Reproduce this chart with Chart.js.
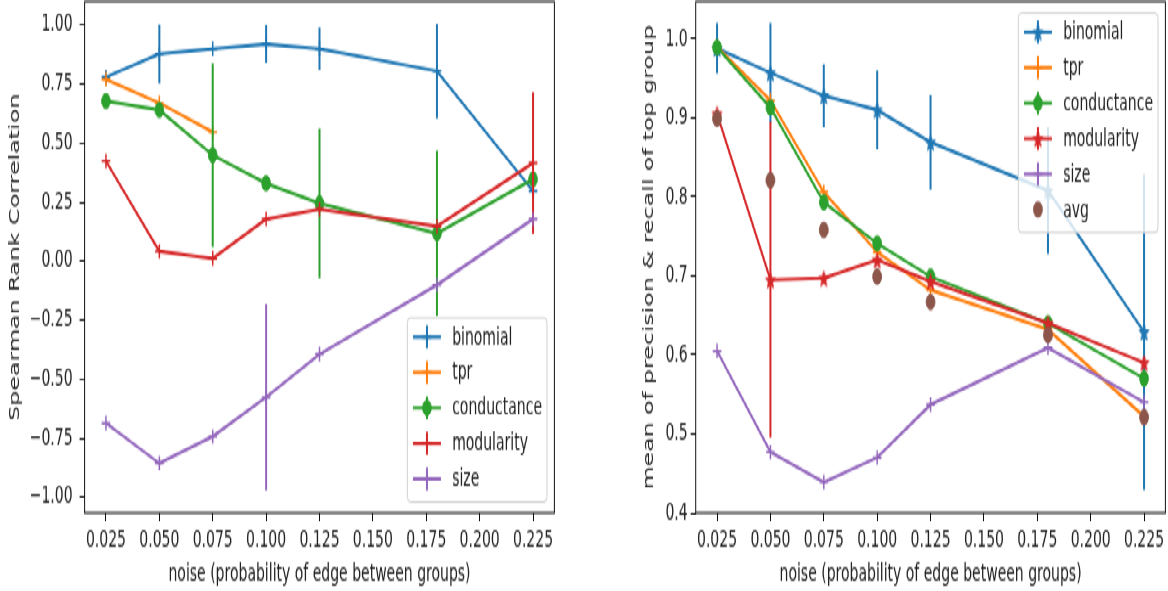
<!DOCTYPE html>
<html><head><meta charset="utf-8">
<script src="https://cdn.jsdelivr.net/npm/chart.js"></script>
<style>
html,body{margin:0;padding:0;background:#fff;overflow:hidden;width:1168px;height:591px;}
#stage{position:absolute;left:0;top:0;width:1168px;height:348px;transform:scaleY(1.6983);transform-origin:0 0;}
.panel{position:absolute;top:0;width:584px;height:348px;}
canvas{display:block;}
</style></head><body>
<div id="stage">
<div class="panel" style="left:0"><canvas id="c1" width="584" height="348"></canvas></div>
<div class="panel" style="left:584px"><canvas id="c2" width="584" height="348"></canvas></div>
</div>
<script>
// ---------- data ----------
const noise = [0.025, 0.05, 0.075, 0.1, 0.125, 0.18, 0.225];
const xTickValues = [0.025, 0.05, 0.075, 0.1, 0.125, 0.15, 0.175, 0.2, 0.225];
const xTickLabels = ['0.025', '0.050', '0.075', '0.100', '0.125', '0.150', '0.175', '0.200', '0.225'];

const leftYTickValues = [-1, -0.75, -0.5, -0.25, 0, 0.25, 0.5, 0.75, 1];
const leftYTickLabels = ['\u22121.00', '\u22120.75', '\u22120.50', '\u22120.25', '0.00', '0.25', '0.50', '0.75', '1.00'];
const rightYTickValues = [0.4, 0.5, 0.6, 0.7, 0.8, 0.9, 1.0];
const rightYTickLabels = ['0.4', '0.5', '0.6', '0.7', '0.8', '0.9', '1.0'];

// left panel: Spearman rank correlation
const spearBinomial        = [0.78, 0.877, 0.90, 0.92, 0.90, 0.805, 0.297];
const spearBinomialErr     = [0, 0.125, 0, 0.08, 0.09, 0.2, 0.03];
const spearTpr             = [0.77, 0.67, 0.547, null, null, null, null];
const spearConductance     = [0.678, 0.64, 0.449, 0.33, 0.245, 0.118, 0.347];
const spearConductanceErr  = [0, 0, 0.39, 0, 0.317, 0.35, 0];
const spearModularity      = [0.424, 0.042, 0.012, 0.178, 0.22, 0.148, 0.416];
const spearModularityErr   = [0, 0, 0, 0, 0, 0, 0.3];
const spearSize            = [-0.686, -0.856, -0.742, -0.576, -0.394, -0.1, 0.178];
const spearSizeErr         = [0, 0, 0, 0.395, 0, 0, 0];

// right panel: mean of precision & recall of top group
const prBinomial       = [0.988, 0.957, 0.928, 0.91, 0.869, 0.808, 0.629];
const prBinomialErr    = [0.032, 0.063, 0.04, 0.05, 0.06, 0.08, 0.2];
const prTpr            = [0.99, 0.922, 0.806, 0.73, 0.682, 0.632, 0.522];
const prConductance    = [0.989, 0.913, 0.793, 0.741, 0.699, 0.64, 0.57];
const prModularity     = [0.905, 0.695, 0.697, 0.72, 0.693, 0.64, 0.59];
const prModularityErr  = [0, 0.2, 0, 0, 0, 0, 0];
const prSize           = [0.605, 0.477, 0.439, 0.47, 0.537, 0.609, 0.54];
const prAvg            = [0.899, 0.821, 0.758, 0.699, 0.667, 0.625, 0.521];

// ---------- styling ----------
const COL = {blue:'#1f77b4', orange:'#ff7f0e', green:'#2ca02c', red:'#d62728', purple:'#9467bd', brown:'#8c564b'};
const FONT = '"DejaVu Sans", "Liberation Sans", sans-serif';
Chart.defaults.font.family = FONT;
Chart.defaults.font.size = 14;
Chart.defaults.color = '#222';

function starCanvas(color, R) {
  const s = Math.ceil(2 * R + 3);
  const cv = document.createElement('canvas'); cv.width = s; cv.height = s;
  const g = cv.getContext('2d');
  g.translate(s / 2, s / 2 + 0.6);
  g.beginPath();
  for (let k = 0; k < 10; k++) {
    const r = k % 2 ? R * 0.42 : R;
    const a = -Math.PI / 2 + k * Math.PI / 5;
    g.lineTo(r * Math.cos(a), r * Math.sin(a));
  }
  g.closePath(); g.fillStyle = color; g.fill();
  g.strokeStyle = color; g.lineWidth = 1; g.stroke();
  return cv;
}
const CROSS = {style: 'cross', radius: 4.3, bw: 1.5};
const DOT = {style: 'circle', radius: 4.3, bw: 1};
const AVGDOT = {style: 'circle', radius: 4.4, bw: 1};
const star = c => ({style: starCanvas(c, 5), radius: 5, bw: 1});

function buildSets(list) {
  const sets = [];
  list.forEach((s, k) => {
    const order = -10 * k;
    sets.push({
      label: s.label,
      data: noise.map((x, i) => ({x, y: s.values[i]})),
      showLine: s.line !== false,
      borderColor: s.color, backgroundColor: s.color,
      borderWidth: 2, tension: 0, spanGaps: false,
      pointStyle: s.marker.style, pointRadius: s.marker.radius,
      pointBorderWidth: s.marker.bw,
      pointBackgroundColor: s.color, pointBorderColor: s.color,
      order
    });
    if (s.errors) {
      s.errors.forEach((e, i) => {
        if (e > 0 && s.values[i] != null) {
          sets.push({
            label: '',
            data: [{x: noise[i], y: s.values[i] - e}, {x: noise[i], y: s.values[i] + e}],
            showLine: true, borderColor: s.color, borderWidth: 2,
            pointRadius: 0, order: order + 1
          });
        }
      });
    }
  });
  return sets;
}

function drawMarker(ctx, m, color, x, y) {
  ctx.save();
  ctx.fillStyle = color; ctx.strokeStyle = color; ctx.lineWidth = m.bw;
  if (m.style === 'circle') {
    ctx.beginPath(); ctx.arc(x, y, m.radius, 0, Math.PI * 2); ctx.fill(); ctx.stroke();
  } else if (m.style === 'cross') {
    ctx.beginPath();
    ctx.moveTo(x - m.radius, y); ctx.lineTo(x + m.radius, y);
    ctx.moveTo(x, y - m.radius); ctx.lineTo(x, y + m.radius);
    ctx.stroke();
  } else if (m.style instanceof HTMLCanvasElement) {
    ctx.drawImage(m.style, x - m.style.width / 2, y - m.style.height / 2);
  }
  ctx.restore();
}

const framePlugin = {
  id: 'frameAndLegend',
  afterDatasetsDraw(chart) {
    const {ctx, chartArea: a} = chart;
    ctx.save();
    ctx.strokeStyle = '#111'; ctx.lineWidth = 1;
    ctx.strokeRect(a.left, a.top, a.right - a.left, a.bottom - a.top);
    ctx.restore();
  },
  afterDraw(chart) {
    const opts = chart.options.plugins.boxLegend;
    if (!opts) return;
    const {ctx, chartArea: a} = chart;
    const entries = opts.entries;
    ctx.save();
    ctx.font = '14px ' + FONT;
    const maxW = Math.max(...entries.map(e => ctx.measureText(e.label).width));
    const rowH = 20.9, w = 44.8 + maxW + 5, h = entries.length * rowH + 3.8;
    const right = a.right - 7.4;
    const left = right - w;
    const top = opts.loc === 'upper right' ? a.top + 6.7 : a.bottom - 6.5 - h;
    ctx.beginPath();
    ctx.roundRect(left, top, w, h, 3);
    ctx.fillStyle = 'rgba(255,255,255,0.8)'; ctx.fill();
    ctx.strokeStyle = '#d0d0d0'; ctx.lineWidth = 1; ctx.stroke();
    entries.forEach((e, i) => {
      const yc = top + 11.2 + i * rowH;
      const hx0 = left + 5.6, hx1 = hx0 + 28, hc = (hx0 + hx1) / 2;
      ctx.strokeStyle = e.color; ctx.lineWidth = 2;
      if (e.line !== false) { ctx.beginPath(); ctx.moveTo(hx0, yc); ctx.lineTo(hx1, yc); ctx.stroke(); }
      if (e.errbar !== false) { ctx.beginPath(); ctx.moveTo(hc, yc - 6.8); ctx.lineTo(hc, yc + 6.8); ctx.stroke(); }
      drawMarker(ctx, e.marker, e.color, hc, yc);
      ctx.fillStyle = '#222'; ctx.textAlign = 'left'; ctx.textBaseline = 'middle';
      ctx.fillText(e.label, left + 44.8, yc + 0.5);
    });
    ctx.restore();
  }
};

function makeChart(canvas, cfg) {
  return new Chart(canvas, {
    type: 'scatter',
    data: {datasets: buildSets(cfg.series)},
    options: {
      responsive: false, animation: false, events: [],
      layout: {autoPadding: false, padding: {left: 0, right: cfg.padRight, top: 1, bottom: 0}},
      plugins: {legend: {display: false}, tooltip: {enabled: false},
        boxLegend: {loc: cfg.legendLoc, entries: cfg.series.map(s => ({label: s.label, color: s.color, marker: s.marker, line: s.line, errbar: s.line}))}},
      scales: {
        x: {
          type: 'linear', min: 0.015, max: 0.235,
          afterBuildTicks: sc => { sc.ticks = xTickValues.map(v => ({value: v})); },
          afterFit: sc => { sc.height = 46; sc.paddingLeft = 0; sc.paddingRight = 0; },
          ticks: {autoSkip: false, maxRotation: 0, padding: 2.5, color: '#222', font: {size: 14},
            callback: (v, i) => xTickLabels[i]},
          grid: {display: true, drawOnChartArea: false, drawTicks: true, tickLength: 5, color: '#111', lineWidth: 1},
          border: {display: false},
          title: {display: true, text: 'noise (probability of edge between groups)', color: '#222',
            font: {size: 14}, padding: {top: 0, bottom: 1.6}}
        },
        y: {
          type: 'linear', min: cfg.yMin, max: cfg.yMax,
          afterBuildTicks: sc => { sc.ticks = cfg.yTicks.map(v => ({value: v})); },
          afterFit: sc => { sc.width = cfg.yAxisWidth; sc.paddingTop = 0; sc.paddingBottom = 0; },
          ticks: {autoSkip: false, padding: cfg.yTickPad, color: '#222', font: {size: 14},
            callback: (v, i) => cfg.yLabels[i]},
          grid: {display: true, drawOnChartArea: false, drawTicks: true, tickLength: 5, color: '#111', lineWidth: 1},
          border: {display: false},
          title: {display: true, text: cfg.yTitle, color: '#222', font: {size: 14},
            padding: {top: cfg.yTitlePad, bottom: 0}}
        }
      }
    },
    plugins: [framePlugin]
  });
}

makeChart(document.getElementById('c1'), {
  padRight: 29.6, yAxisWidth: 84.6, yTickPad: 7, yTitlePad: 6.6,
  yMin: -1.066, yMax: 1.099, yTicks: leftYTickValues, yLabels: leftYTickLabels,
  yTitle: 'Spearman Rank Correlation', legendLoc: 'lower right',
  series: [
    {label: 'binomial', color: COL.blue, values: spearBinomial, errors: spearBinomialErr, marker: CROSS},
    {label: 'tpr', color: COL.orange, values: spearTpr, errors: null, marker: CROSS},
    {label: 'conductance', color: COL.green, values: spearConductance, errors: spearConductanceErr, marker: DOT},
    {label: 'modularity', color: COL.red, values: spearModularity, errors: spearModularityErr, marker: CROSS},
    {label: 'size', color: COL.purple, values: spearSize, errors: spearSizeErr, marker: CROSS}
  ]
});

makeChart(document.getElementById('c2'), {
  padRight: 2.6, yAxisWidth: 111.7, yTickPad: 3, yTitlePad: 56.6,
  yMin: 0.4, yMax: 1.047, yTicks: rightYTickValues, yLabels: rightYTickLabels,
  yTitle: 'mean of precision & recall of top group', legendLoc: 'upper right',
  series: [
    {label: 'binomial', color: COL.blue, values: prBinomial, errors: prBinomialErr, marker: star(COL.blue)},
    {label: 'tpr', color: COL.orange, values: prTpr, errors: null, marker: CROSS},
    {label: 'conductance', color: COL.green, values: prConductance, errors: null, marker: DOT},
    {label: 'modularity', color: COL.red, values: prModularity, errors: prModularityErr, marker: star(COL.red)},
    {label: 'size', color: COL.purple, values: prSize, errors: null, marker: CROSS},
    {label: 'avg', color: COL.brown, values: prAvg, errors: null, marker: AVGDOT, line: false}
  ]
});
</script>
</body></html>
